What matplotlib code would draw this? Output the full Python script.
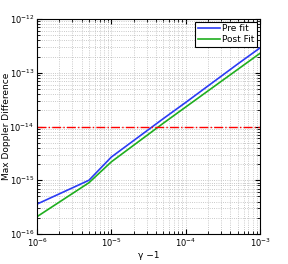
import numpy as np
import matplotlib
matplotlib.use("Agg")
import matplotlib.pyplot as plt

# gamma - 1 values and max doppler differences
gamma_m1 = [1e-6, 5e-6, 1e-5, 5e-5, 1e-4, 5e-4, 1e-3]
pre_fit = [3.6e-16, 1.0e-15, 2.7e-15, 1.4e-14, 2.8e-14, 1.45e-13, 2.9e-13]
post_fit = [2.1e-16, 0.9e-15, 2.2e-15, 1.15e-14, 2.3e-14, 1.15e-13, 2.3e-13]
threshold = 1e-14

fig = plt.figure(figsize=(2.88, 2.64), dpi=100)
ax = fig.add_axes([37/288, 1 - 234/264, 223/288, 215/264])

ax.loglog(gamma_m1, pre_fit, color="#2b3cf5", lw=1.2, label="Pre fit")
ax.loglog(gamma_m1, post_fit, color="#1fae1f", lw=1.2, label="Post Fit")
ax.axhline(threshold, color="red", ls="-.", lw=1.0)

ax.set_xlim(1e-6, 1e-3)
ax.set_ylim(1e-16, 1e-12)
ax.grid(True, which="both", ls=":", color="#b8b8b8", lw=0.6)
ax.tick_params(which="both", direction="in", labelsize=6, top=True, right=True, pad=2)
for s in ax.spines.values():
    s.set_linewidth(0.8)

ax.set_xlabel("γ −1", fontsize=6.5)
ax.set_ylabel("Max Doppler Difference", fontsize=6.5)
ax.xaxis.set_label_coords(0.5, -0.08)
ax.yaxis.set_label_coords(-0.115, 0.5)

leg = ax.legend(loc="upper right", fontsize=6.5, fancybox=False, framealpha=1,
                edgecolor="black", borderpad=0.3, handlelength=2.4,
                handletextpad=0.3, labelspacing=0.2, borderaxespad=0.3)
leg.get_frame().set_linewidth(0.8)

fig.savefig("out.png", dpi=100)
